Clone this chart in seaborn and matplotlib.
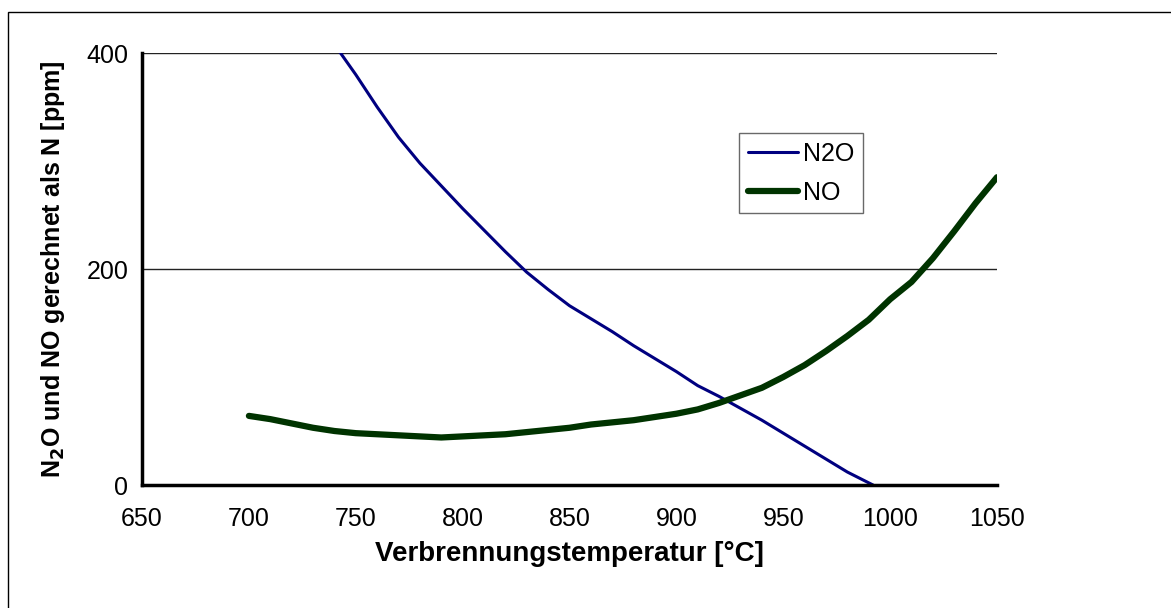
import matplotlib.pyplot as plt
from matplotlib.patches import Rectangle
import seaborn as sns

# N2O values (ppm, as N), clipped at the top of the axis like in the original
n2o_temp = [740, 750, 760, 770, 780, 790, 800, 810, 820, 830, 840, 850, 860,
            870, 880, 890, 900, 910, 920, 930, 940, 950, 960, 970, 980, 992]
n2o_ppm = [408, 380, 350, 322, 298, 277, 256, 236, 216, 197, 181, 166, 154,
           142, 129, 117, 105, 92, 82, 71, 60, 48, 36, 24, 12, 0]

# NO values (ppm, as N)
no_temp = [700, 710, 720, 730, 740, 750, 760, 770, 780, 790, 800, 810, 820,
           830, 840, 850, 860, 870, 880, 890, 900, 910, 920, 930, 940, 950,
           960, 970, 980, 990, 1000, 1010, 1020, 1030, 1040, 1050]
no_ppm = [64, 61, 57, 53, 50, 48, 47, 46, 45, 44, 45, 46, 47,
          49, 51, 53, 56, 58, 60, 63, 66, 70, 76, 83, 90, 100,
          111, 124, 138, 153, 172, 188, 210, 235, 261, 285]

x_ticks = [650, 700, 750, 800, 850, 900, 950, 1000, 1050]
y_ticks = [0, 200, 400]

sns.set_theme(style='white')
plt.rcParams['font.family'] = ['Liberation Sans', 'DejaVu Sans']
plt.rcParams['text.color'] = 'black'
plt.rcParams['axes.labelcolor'] = 'black'

fig = plt.figure(figsize=(11.71, 6.08), dpi=100)
ax = fig.add_axes([0.1213, 0.2023, 0.7301, 0.7105])

sns.lineplot(x=n2o_temp, y=n2o_ppm, color='#000080', linewidth=2.2,
             label='N2O', ax=ax)
sns.lineplot(x=no_temp, y=no_ppm, color='#003300', linewidth=4.5,
             label='NO', ax=ax, solid_capstyle='round')

ax.set_xlim(650, 1050)
ax.set_ylim(0, 400)
ax.set_xticks(x_ticks)
ax.set_yticks(y_ticks)

# horizontal gridlines only
for y in y_ticks[1:]:
    ax.axhline(y, color='#222222', linewidth=1.0, zorder=0)

for side in ['top', 'right']:
    ax.spines[side].set_visible(False)
for side in ['left', 'bottom']:
    ax.spines[side].set_color('black')
    ax.spines[side].set_linewidth(2.5)

ax.tick_params(axis='both', direction='out', length=7, width=2.5,
               color='black', labelsize=18, labelcolor='black')
ax.tick_params(axis='y', pad=3)
ax.tick_params(axis='x', pad=9)

ax.set_xlabel('Verbrennungstemperatur [°C]', fontsize=20, fontweight='bold',
              labelpad=7)
ax.set_ylabel('N$_\\mathbf{2}$O und NO gerechnet als N [ppm]', fontsize=18,
              fontweight='bold', labelpad=14)

leg = ax.legend(loc='upper left', bbox_to_anchor=(0.698, 0.815), fontsize=18,
                frameon=True, fancybox=False, shadow=False, handlelength=2.0,
                handletextpad=0.2, borderpad=0.35, labelspacing=0.6,
                borderaxespad=0)
leg.get_frame().set_edgecolor('#444444')
leg.get_frame().set_linewidth(1.0)

# outer chart frame
fig.patches.append(Rectangle((8 / 1171, -0.1), 1.2, 1 - 12 / 608 + 0.1,
                             transform=fig.transFigure, fill=False,
                             edgecolor='black', linewidth=1.0))

fig.savefig('out.png', dpi=100)
